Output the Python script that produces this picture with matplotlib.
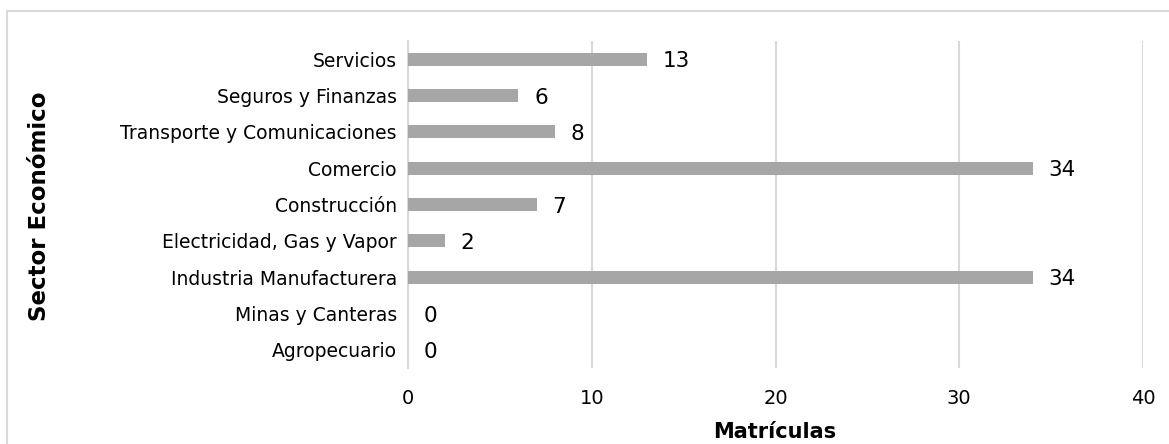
import matplotlib
matplotlib.use("Agg")
import matplotlib.pyplot as plt
from matplotlib.patches import Rectangle

categories = ["Agropecuario", "Minas y Canteras", "Industria Manufacturera",
              "Electricidad, Gas y Vapor", "Construcción", "Comercio",
              "Transporte y Comunicaciones", "Seguros y Finanzas", "Servicios"]
values = [0, 0, 34, 2, 7, 34, 8, 6, 13]
xticks = [0, 10, 20, 30, 40]

plt.rcParams['font.family'] = ['DejaVu Sans']

W, H = 1169, 444
fig = plt.figure(figsize=(W / 100, H / 100), dpi=100)
ax = fig.add_axes([408 / W, 1 - 368 / H, (1143 - 408) / W, (368 - 41) / H])

# outer chart frame
fig.patches.append(Rectangle((6.5 / W, -0.1), 1.2, 1 - 11.5 / H + 0.1,
                             transform=fig.transFigure, fill=False,
                             edgecolor='#d9d9d9', linewidth=1.5))

y = list(range(len(categories)))
ax.barh(y, values, height=0.35, color='#a6a6a6', zorder=3)
for yi, v in zip(y, values):
    ax.annotate(str(v), xy=(v, yi), xytext=(11.5, -1.5), textcoords='offset points',
                va='center', ha='left', fontsize=15.5, color='#000000')

ax.set_xlim(0, 40)
ax.set_ylim(-0.5, len(categories) - 0.5)
ax.set_xticks(xticks)
ax.set_xticklabels([str(t) for t in xticks], fontsize=14)
ax.set_yticks(y)
ax.set_yticklabels(categories, fontsize=13.5)
ax.tick_params(axis='both', length=0, colors='#000000')
ax.tick_params(axis='x', pad=15)
ax.tick_params(axis='y', pad=8)
ax.grid(axis='x', color='#d9d9d9', linewidth=1.5, zorder=0)
for s in ['top', 'right', 'bottom']:
    ax.spines[s].set_visible(False)
ax.spines['left'].set_color('#d9d9d9')
ax.spines['left'].set_linewidth(1.5)

fig.text(775 / W, 1 - 432 / H, "Matrículas", ha='center', va='center',
         fontsize=15, fontweight='bold')
fig.text(40 / W, 1 - 206 / H, "Sector Económico", ha='center', va='center',
         rotation=90, fontsize=16.5, fontweight='bold')

fig.savefig("out.png", dpi=100, facecolor='white')
